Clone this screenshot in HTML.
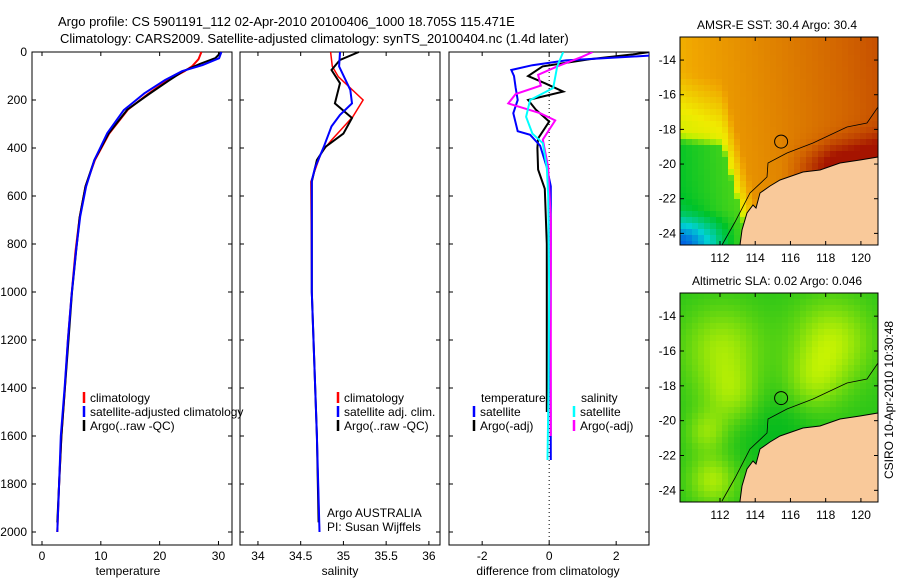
<!DOCTYPE html>
<html><head><meta charset="utf-8">
<style>
body{margin:0;background:#fff;}
svg{display:block;font-family:"Liberation Sans",Arial,sans-serif;}
text{font-size:12px;fill:#000;}
</style></head>
<body>
<svg id="fig" width="900" height="580" viewBox="0 0 900 580" xmlns="http://www.w3.org/2000/svg">
<rect width="900" height="580" fill="#fff"/>
<text x="58" y="26" style="font-size:13px">Argo profile: CS 5901191_112 02-Apr-2010 20100406_1000 18.705S 115.471E</text>
<text x="60" y="43" style="font-size:13px">Climatology: CARS2009. Satellite-adjusted climatology: synTS_20100404.nc (1.4d later)</text>
<g id="plots"></g>
<text x="128" y="575" text-anchor="middle">temperature</text>
<text x="340" y="575" text-anchor="middle">salinity</text>
<text x="548" y="575" text-anchor="middle">difference from climatology</text>
<text x="777" y="29" text-anchor="middle">AMSR-E SST: 30.4 Argo: 30.4</text>
<text x="777" y="285" text-anchor="middle">Altimetric SLA: 0.02 Argo: 0.046</text>
<text transform="translate(893,400) rotate(-90)" text-anchor="middle">CSIRO 10-Apr-2010 10:30:48</text>
</svg>
<script>
// ---- profile data ----
const tClimDepth=[0,30,60,80,120,175,240,340,450,560,690,830,1020,1200,1400,1600,1800,2000];
const tClimVal=[27.1,26.6,25.5,24.2,21.2,18.0,14.6,11.4,9.0,7.4,6.4,5.7,5.0,4.4,3.9,3.3,2.9,2.6];
const tSatDepth=[0,26,54,80,117,172,242,338,450,561,686,825,1020,1200,1400,1600,1800,2000];
const tSatVal=[30.5,30.1,27.3,23.8,20.9,17.4,13.9,11.1,8.9,7.5,6.5,5.8,5.0,4.4,3.85,3.2,2.9,2.6];
const tArgoDepth=[0,25,50,80,120,175,240,340,450,560,690,830,1000,1200,1400,1600,1800,1960];
const tArgoVal=[30.5,29.5,26.8,24.0,21.5,18.2,14.5,11.3,8.9,7.4,6.4,5.8,5.1,4.5,3.9,3.3,2.9,2.6];

const sClimDepth=[0,60,103,200,270,367,420,490,540,1000,1400,1600,2000];
const sClimVal=[34.85,34.87,34.94,35.23,35.11,34.86,34.74,34.67,34.62,34.63,34.67,34.69,34.72];
const sSatDepth=[0,60,158,214,262,310,395,480,535,1000,1400,1600,2000];
const sSatVal=[34.96,34.95,35.08,35.10,34.96,34.86,34.77,34.67,34.63,34.63,34.67,34.69,34.72];
const sArgoDepth=[0,33,75,130,214,275,340,395,450,540,1000,1400,1600,1960];
const sArgoVal=[35.18,34.96,34.86,34.96,34.90,35.10,35.00,34.79,34.69,34.63,34.63,34.67,34.69,34.71];

const dTSatDepth=[0,15,35,55,75,100,150,200,255,330,345,390,480,560,800,1200,1700];
const dTSatVal=[3.0,3.0,0.5,-0.5,-1.13,-1.05,-1.0,-0.94,-1.07,-0.94,-0.57,-0.27,-0.07,0.05,0.05,0.04,0.05];
const dTArgoDepth=[0,10,30,60,100,130,165,200,240,290,360,400,490,570,800,1200,1500];
const dTArgoVal=[3.0,2.5,1.2,-0.2,-0.63,-0.13,0.42,-0.63,-0.4,0.0,-0.33,-0.35,-0.33,-0.13,-0.07,-0.07,-0.07];
const dSSatDepth=[0,60,150,200,270,340,380,480,600,1000,1400,1700];
const dSSatVal=[0.42,0.24,0.12,-0.57,-0.69,-0.5,-0.19,-0.07,-0.03,0.0,-0.02,-0.05];
const dSArgoDepth=[0,20,60,95,140,175,214,255,285,365,480,700,1200,1600];
const dSArgoVal=[1.3,0.98,0.24,-0.33,-0.25,-1.0,-1.22,-0.27,0.18,-0.19,-0.03,0.05,0.05,0.05];

const depthTicks=[0,200,400,600,800,1000,1200,1400,1600,1800,2000];
const tempTicks=[0,10,20,30];
const salTicks=[34,34.5,35,35.5,36];
const diffTicks=[-2,0,2];
const latTicks=[-14,-16,-18,-20,-22,-24];
const lonTicks=[112,114,116,118,120];

const NS="http://www.w3.org/2000/svg";
const root=document.getElementById('plots');
function mk(tag,attrs,parent){const e=document.createElementNS(NS,tag);for(const k in attrs)e.setAttribute(k,attrs[k]);(parent||root).appendChild(e);return e;}

const top0=52, bot0=545;
const yD=d=>52+d*0.24;

function panel(name,x0,x1,vmin,vmax,xt,showY){
  const g=mk('g',{});
  
  
  const xs=v=>x0+(v-vmin)/(vmax-vmin)*(x1-x0);
  const fr=mk('rect',{x:x0,y:top0,width:x1-x0,height:bot0-top0,fill:'none',stroke:'#000','stroke-width':1},g);
  
  
  depthTicks.forEach(d=>{
    const y=yD(d);
    mk('line',{x1:x0,x2:x0+4,y1:y,y2:y,stroke:'#000'},g);
    mk('line',{x1:x1,x2:x1-4,y1:y,y2:y,stroke:'#000'},g);
    if(showY){const t=mk('text',{x:x0-5,y:y+4,'text-anchor':'end'},g);t.textContent=d;
      
      }
  });
  xt.forEach(v=>{
    const x=xs(v);
    mk('line',{x1:x,x2:x,y1:bot0,y2:bot0-4,stroke:'#000'},g);
    mk('line',{x1:x,x2:x,y1:top0,y2:top0+4,stroke:'#000'},g);
    const t=mk('text',{x:x,y:560,'text-anchor':'middle'},g);t.textContent=v;
    
    
  });
  return {g,xs};
}
function series(p,depths,vals,color,w,name){
  const pts=depths.map((d,i)=>p.xs(vals[i]).toFixed(1)+','+yD(d).toFixed(1)).join(' ');
  const l=mk('polyline',{points:pts,fill:'none',stroke:color,'stroke-width':w},p.g);
  
  
}
function legend(g,x,y,color,label){
  mk('line',{x1:x,x2:x,y1:y-6,y2:y+5,stroke:color,'stroke-width':2.5},g);
  const t=mk('text',{x:x+6,y:y+4},g);t.textContent=label;
  
  
}
const clip=mk('clipPath',{id:'c3'});mk('rect',{x:449,y:52,width:200,height:493},clip);

const p1=panel('temperature-panel',32,232,-1.7,32.3,tempTicks,true);
series(p1,tClimDepth,tClimVal,'#ff0000',2,'temp-climatology-line');
series(p1,tArgoDepth,tArgoVal,'#000',2,'temp-argo-line');
series(p1,tSatDepth,tSatVal,'#0000ff',2,'temp-satellite-line');
legend(p1.g,84,398,'#ff0000','climatology');
legend(p1.g,84,412,'#0000ff','satellite-adjusted climatology');
legend(p1.g,84,426,'#000','Argo(..raw -QC)');

const p2=panel('salinity-panel',240,440,33.79,36.13,salTicks,false);
series(p2,sClimDepth,sClimVal,'#ff0000',1.5,'sal-climatology-line');
series(p2,sArgoDepth,sArgoVal,'#000',2,'sal-argo-line');
series(p2,sSatDepth,sSatVal,'#0000ff',2,'sal-satellite-line');
legend(p2.g,338,398,'#ff0000','climatology');
legend(p2.g,338,412,'#0000ff','satellite adj. clim.');
legend(p2.g,338,426,'#000','Argo(..raw -QC)');
let tA=mk('text',{x:327,y:517},p2.g);tA.textContent='Argo AUSTRALIA';


let tB=mk('text',{x:327,y:531},p2.g);tB.textContent='PI: Susan Wijffels';



const p3=panel('difference-panel',449,649,-2.99,2.98,diffTicks,false);
mk('line',{x1:p3.xs(0),x2:p3.xs(0),y1:52,y2:545,stroke:'#000','stroke-dasharray':'1,3'},p3.g);
const g3=mk('g',{'clip-path':'url(#c3)'},p3.g);
const p3c={g:g3,xs:p3.xs};
series(p3c,dTArgoDepth,dTArgoVal,'#000',2,'diff-temp-argo-line');
series(p3c,dTSatDepth,dTSatVal,'#0000ff',2,'diff-temp-satellite-line');
series(p3c,dSArgoDepth,dSArgoVal,'#ff00ff',2,'diff-sal-argo-line');
series(p3c,dSSatDepth,dSSatVal,'#00ffff',2,'diff-sal-satellite-line');
let tt=mk('text',{x:481,y:402},p3.g);tt.textContent='temperature';


let ts=mk('text',{x:581,y:402},p3.g);ts.textContent='salinity';


legend(p3.g,474,412,'#0000ff','satellite');
legend(p3.g,474,426,'#000','Argo(-adj)');
legend(p3.g,574,412,'#00ffff','satellite');
legend(p3.g,574,426,'#ff00ff','Argo(-adj)');

// ---- maps ----
const lonMin=109.73, lonMax=120.97, latTop=-12.67, latBot=-24.67;
const mx0=680, mx1=878;
function jet(t){
  const stops=[[0,[0,60,230]],[0.2,[0,210,210]],[0.35,[0,195,40]],[0.5,[190,240,0]],[0.6,[240,235,0]],[0.7,[240,165,0]],[0.85,[210,100,0]],[1,[165,20,0]]];
  t=Math.max(0,Math.min(1,t));
  for(let i=1;i<stops.length;i++){if(t<=stops[i][0]){const a=stops[i-1],b=stops[i];const f=(t-a[0])/(b[0]-a[0]);
    return 'rgb('+a[1].map((c,j)=>Math.round(c+(b[1][j]-c)*f)).join(',')+')';}}
  return 'rgb(165,20,0)';
}
function greens(t){t=Math.max(0,Math.min(1,t));
  const a=[0,185,30],b=[215,248,0];return 'rgb('+a.map((c,j)=>Math.round(c+(b[j]-c)*t)).join(',')+')';}
const gauss=(u,v,cu,cv,r)=>Math.exp(-(((u-cu)**2)+((v-cv)**2))/(r*r));
const clamp01=x=>Math.max(0,Math.min(1,x));
const coast=[[740,245],[742,230],[747,213],[753,205],[756,208],[760,193],[770,186],[780,180],[803,172],[820,170],[840,163],[860,160],[878,157]];
const iso=[[722,245],[735,222],[750,193],[767,177],[768,163],[787,153],[813,143],[847,127],[867,123],[878,107]];

function map(name,y0,y1,kind){
  const g=mk('g',{});
  
  
  const h=y1-y0, cs=6;
  for(let y=y0;y<y1;y+=cs){for(let x=mx0;x<mx1;x+=cs){
    const u=(x-mx0)/(mx1-mx0), v=(y-y0)/h;
    let col;
    if(kind==='sst'){
      let t=0.69+0.2*u-0.02*v;
      const vb=u<0.2?0.44+0.1*u:0.46+(u-0.2)*3.5;
      const s=v-vb;
      t-=0.12*clamp01((s+0.28)/0.25);     // yellow band
      t-=0.2*clamp01(s/0.06);             // green pool
      t-=0.1*clamp01((v-0.82)/0.12)*clamp01((0.3-u)/0.15); // cyan near bottom
      t-=0.2*gauss(u,v,0.0,1.0,0.13);     // blue corner
      const cy=170-37-(u-0.5)*30;
      const ry=(y-y0)-cy;
      if(u>0.5) t+=0.2*Math.exp(-((ry/22)**2))*Math.min(1,(u-0.5)*4);
      col=jet(t);
    } else {
      let t=0.2+0.55*gauss(u,v,0.2,0.25,0.2)+0.5*gauss(u,v,0.25,0.48,0.15)+0.65*gauss(u,v,0.75,0.22,0.2)+0.45*gauss(u,v,0.65,0.42,0.15)+0.6*gauss(u,v,0.15,0.88,0.12)+0.45*gauss(u,v,0.12,0.65,0.1)-0.2*gauss(u,v,0.45,0.6,0.25);
      col=greens(t);
    }
    mk('rect',{x:x,y:y,width:Math.min(cs,mx1-x),height:Math.min(cs,y1-y),fill:col},g);
  }}
  const dy=y0-37;
  const land=coast.map(p=>p[0]+','+(p[1]+dy)).join(' ')+' '+mx1+','+y1+' '+740+','+y1;
  const ld=mk('polygon',{points:land,fill:'#f9c99a',stroke:'#000','stroke-width':1},g);
  
  
  mk('polyline',{points:iso.map(p=>p[0]+','+(p[1]+dy)).join(' '),fill:'none',stroke:'#000','stroke-width':0.8},g);
  const cx=mx0+(115.47-lonMin)/(lonMax-lonMin)*(mx1-mx0), cyy=y0+(latTop+18.705)/(latTop-latBot)*h;
  const c=mk('circle',{cx:cx,cy:cyy,r:6.5,fill:'none',stroke:'#000','stroke-width':1},g);
  
  
  mk('rect',{x:mx0,y:y0,width:mx1-mx0,height:h,fill:'none',stroke:'#000'},g);
  latTicks.forEach(l=>{const y=y0+(latTop-l)/(latTop-latBot)*h;
    mk('line',{x1:mx0,x2:mx0+4,y1:y,y2:y,stroke:'#000'},g);mk('line',{x1:mx1,x2:mx1-4,y1:y,y2:y,stroke:'#000'},g);
    const t=mk('text',{x:mx0-4,y:y+4,'text-anchor':'end'},g);t.textContent=l;
    
    });
  lonTicks.forEach(l=>{const x=mx0+(l-lonMin)/(lonMax-lonMin)*(mx1-mx0);
    mk('line',{x1:x,x2:x,y1:y0,y2:y0+4,stroke:'#000'},g);mk('line',{x1:x,x2:x,y1:y1,y2:y1-4,stroke:'#000'},g);
    const t=mk('text',{x:x,y:y1+17,'text-anchor':'middle'},g);t.textContent=l;
    
    });
}
map('sst-map',37,245,'sst');
map('sla-map',293,502,'sla');
</script>
</body></html>
